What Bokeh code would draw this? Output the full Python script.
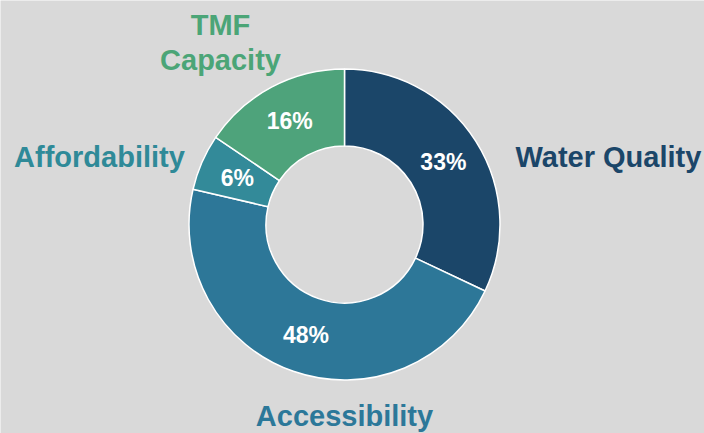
import math
from bokeh.plotting import figure
from bokeh.models import Range1d, ColumnDataSource
from bokeh.core.properties import value
from bokeh.embed import file_html
from bokeh.resources import INLINE

# ---- data ----
categories = ["Water Quality", "Accessibility", "Affordability", "TMF Capacity"]
values = [33, 48, 6, 16]
colors = ["#1b4669", "#2d7798", "#338a99", "#4ea37b"]
label_colors = ["#1b4669", "#2c7899", "#2f8a98", "#4ba577"]
label_texts = ["Water Quality", "Accessibility", "Affordability", "TMF\nCapacity"]

# ---- layout ----
W, H = 704, 433
BG = "#d9d9d9"
cx, cy = 344, H - 224
r_in, r_out = 78.5, 155.5

total = sum(values)
starts, ends, mids = [], [], []
cum = 0
for v in values:
    a0 = math.pi / 2 - 2 * math.pi * cum / total
    cum += v
    a1 = math.pi / 2 - 2 * math.pi * cum / total
    starts.append(a0)
    ends.append(a1)
    mids.append((a0 + a1) / 2)

src = ColumnDataSource(dict(cat=categories, val=values, color=colors,
                            start=starts, end=ends))

p = figure(width=W, height=H, output_backend="svg", toolbar_location=None,
           x_range=Range1d(0, W), y_range=Range1d(0, H),
           min_border=0, background_fill_color=BG, border_fill_color=BG)
p.axis.visible = False
p.grid.visible = False
p.outline_line_color = None

p.annular_wedge(x=cx, y=cy, inner_radius=r_in, outer_radius=r_out,
                start_angle="start", end_angle="end", direction="clock",
                fill_color="color", line_color="white", line_width=1.5,
                source=src)

# percent labels at mid ring
r_mid = (r_in + r_out) / 2
px = [cx + r_mid * math.cos(m) for m in mids]
py = [cy + r_mid * math.sin(m) for m in mids]
pct = [f"{v}%" for v in values]
p.text(x=px, y=py, text=pct, text_color="white", text_font=value("Liberation Sans"),
       text_font_style="bold", text_font_size="23px", text_align="center",
       text_baseline="middle")

# category labels (anchor positions in pixel coords, vertical middle)
lab_pos = [(515, 156, "left"), (344, 415, "center"), (99, 156, "center"), (220, 24, "center")]
for txt, col, (lx, ly, al) in zip(label_texts, label_colors, lab_pos):
    lines = txt.split("\n")
    for i, ln in enumerate(lines):
        p.text(x=[lx], y=[H - (ly + i * 35)], text=[ln], text_color=col,
               text_font=value("Liberation Sans"), text_font_style="bold",
               text_font_size="29px", text_align=al, text_baseline="middle")

html = file_html(p, INLINE)
html = html.replace("<body>", '<body style="margin:0;background:%s;">' % BG, 1)
open("out.html", "w").write(html)
